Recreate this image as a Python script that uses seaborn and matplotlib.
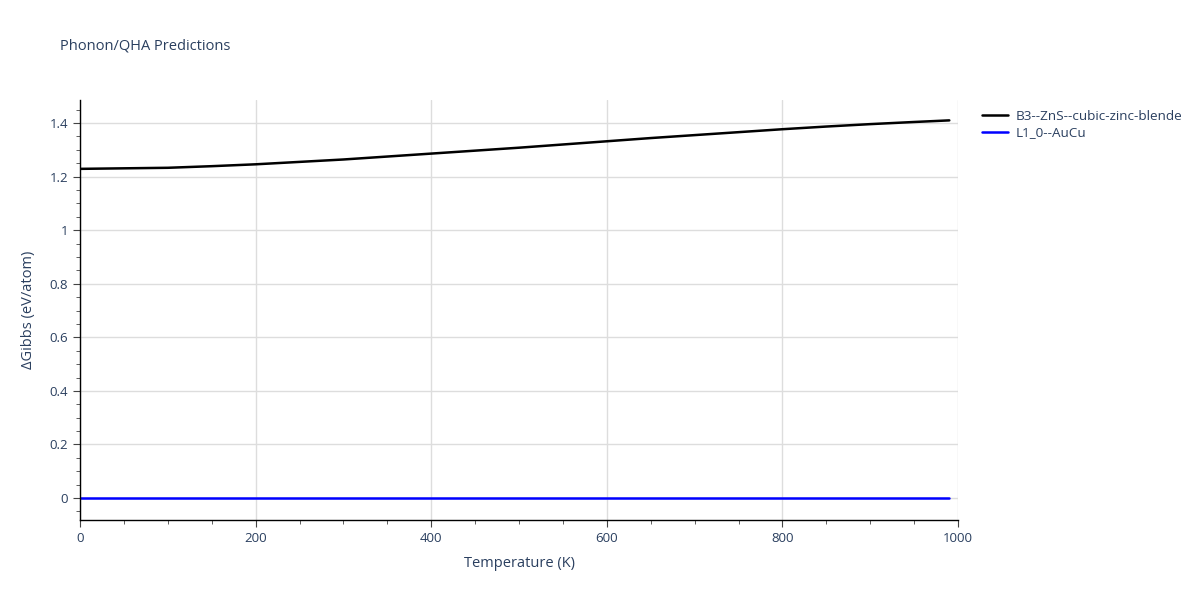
import numpy as np
import pandas as pd
import seaborn as sns
import matplotlib.pyplot as plt
from matplotlib.ticker import MultipleLocator

# values
temperature = [0, 50, 100, 150, 200, 250, 300, 350, 400, 450, 500, 550, 600, 650, 700, 750, 800, 850, 900, 950, 990]
zns_gibbs = [1.229, 1.231, 1.233, 1.239, 1.246, 1.255, 1.264, 1.275, 1.286, 1.297, 1.308, 1.320, 1.332, 1.344, 1.355, 1.366, 1.377, 1.387, 1.396, 1.404, 1.410]
aucu_gibbs = [0.0] * len(temperature)
series_names = ["B3--ZnS--cubic-zinc-blende", "L1_0--AuCu"]
series_colors = ["black", "blue"]

df = pd.DataFrame({
    "T": temperature * 2,
    "G": zns_gibbs + aucu_gibbs,
    "phase": [series_names[0]] * len(temperature) + [series_names[1]] * len(temperature),
})

sns.set_style("white")
plt.rcParams['font.family'] = ['Open Sans', 'DejaVu Sans']
text_color = "#2a3f5f"

fig = plt.figure(figsize=(12, 6), dpi=100)
ax = fig.add_axes([0.0667, 0.1333, 0.7317, 0.7])

sns.lineplot(data=df, x="T", y="G", hue="phase", palette=series_colors,
             hue_order=series_names, linewidth=1.8, ax=ax)

ax.set_xlim(0, 1000)
ax.set_ylim(-0.082, 1.486)
ax.xaxis.set_major_locator(MultipleLocator(200))
ax.xaxis.set_minor_locator(MultipleLocator(50))
ax.yaxis.set_major_locator(MultipleLocator(0.2))
ax.yaxis.set_minor_locator(MultipleLocator(0.05))
ax.grid(True, which="major", color="#dddddd", linewidth=1)
ax.set_axisbelow(True)

for side in ["top", "right"]:
    ax.spines[side].set_visible(False)
for side in ["left", "bottom"]:
    ax.spines[side].set_color("black")
    ax.spines[side].set_linewidth(1)

ax.tick_params(which="major", direction="out", length=5, color="#444444",
               labelcolor=text_color, labelsize=9.5, left=True, bottom=True)
ax.tick_params(which="minor", direction="out", length=3, color="#444444",
               left=True, bottom=True)
ax.set_yticklabels(["0" if abs(v) < 1e-9 else f"{v:g}" for v in ax.get_yticks()])

ax.set_xlabel("Temperature (K)", color=text_color, fontsize=10.5, labelpad=8)
ax.set_ylabel("ΔGibbs (eV/atom)", color=text_color, fontsize=10.5, labelpad=10)

fig.text(0.05, 0.918, "Phonon/QHA Predictions", color=text_color, fontsize=10.5)

leg = ax.legend(loc="upper left", bbox_to_anchor=(1.0135, 1.005), frameon=False,
                fontsize=9.7, handlelength=1.9, handletextpad=0.6, labelspacing=0.25)
for t in leg.get_texts():
    t.set_color(text_color)

fig.savefig("out.png", dpi=100)
